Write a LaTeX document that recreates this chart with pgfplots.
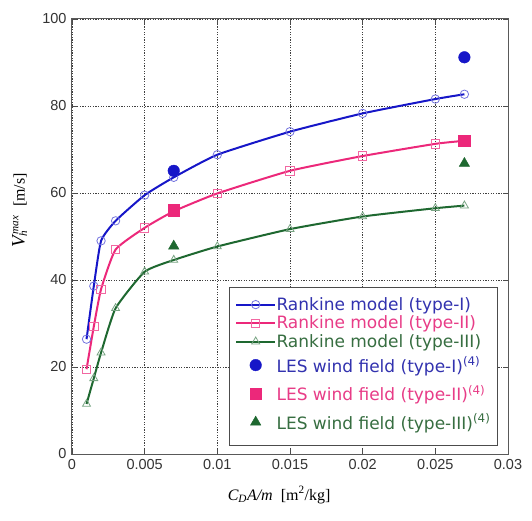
\documentclass[border=0pt]{standalone}
\usepackage{fontspec}
\setmainfont{Liberation Sans}
\newfontfamily\serfont{Liberation Serif}
\newfontfamily\legfont{DejaVu Sans}
\usepackage{pgfplots}
\pgfplotsset{compat=1.18}
\definecolor{cblue}{RGB}{22,22,200}
\definecolor{cpink}{RGB}{236,40,122}
\definecolor{cgreen}{RGB}{30,104,48}
\definecolor{tblue}{RGB}{50,50,175}
\definecolor{tpink}{RGB}{232,60,135}
\definecolor{tgreen}{RGB}{55,110,65}
\pgfplotsset{
  legline/.style={legend image code/.code={\path[draw=none,fill=none] (0cm,-9.25pt) rectangle (1.36cm,9.25pt);
    \draw[line width=2pt, mark repeat=2,mark phase=2] plot coordinates {(0cm,0cm) (0.68cm,0cm) (1.36cm,0cm)};}},
  lesmark/.style={legend image code/.code={\path[draw=none,fill=none] (0cm,-14.25pt) rectangle (1.36cm,14.25pt);
    \draw[mark repeat=2,mark phase=2] plot coordinates {(0cm,0cm) (0.68cm,0cm) (1.36cm,0cm)};}},
  lesmarklast/.style={legend image code/.code={\path[draw=none,fill=none] (0cm,-15pt) rectangle (1.36cm,14.25pt);
    \draw[mark repeat=2,mark phase=2] plot coordinates {(0cm,0cm) (0.68cm,0cm) (1.36cm,0cm)};}},
}
\begin{document}
\begin{tikzpicture}
\begin{axis}[
  name=ax,
  scale only axis,
  width=436pt, height=435pt,
  xmin=0, xmax=0.03, ymin=0, ymax=100,
  scaled x ticks=false,
  xtick={0,0.005,0.01,0.015,0.02,0.025,0.03},
  xticklabels={0,0.005,0.01,0.015,0.02,0.025,0.03},
  ytick={0,20,40,60,80,100},
  /pgf/number format/assume math mode=true,
  tick label style={font=\fontsize{14.5}{16}\selectfont, text=black!80},
  xticklabel style={yshift=-2pt},
  yticklabel style={xshift=-2pt},
  tick style={black!70, line width=0.8pt},
  major tick length=5pt,
  axis line style={black!65, line width=1pt},
  grid=major,
  major grid style={black!75, line width=0.8pt, dash pattern=on 1.2pt off 1.4pt},
  clip=false,
  xlabel={\serfont\fontsize{16}{18}\selectfont{\itshape C}\textsubscript{\itshape D}{\itshape A/m}~~[m\textsuperscript{2}/kg]},
  xlabel style={at={(axis description cs:0.475,-0.094)}, anchor=center},
  ylabel={\serfont\fontsize{16}{18}\selectfont{\fontsize{19}{20}\selectfont\itshape V}\rlap{\textsubscript{\itshape h}}\textsuperscript{\itshape\,max}~~[m/s]},
  ylabel style={at={(axis description cs:-0.12,0.56)}, anchor=center},
  legend style={at={(axis description cs:0.975,0.02)}, anchor=south east,
    draw=black!70, fill=white,
    font=\legfont\fontsize{17}{19}\selectfont,
    row sep=0pt, inner xsep=6pt, inner ysep=8pt,
    nodes={inner sep=0.5pt}},
  legend cell align=left,
]
\addplot[legline, cblue, line width=2pt, smooth, tension=0.3, mark=o, mark size=4.2pt, mark options={line width=0.8pt, draw=cblue!60!white, fill=none}]
coordinates {(0.001,26.4) (0.0015,38.6) (0.002,49.0) (0.003,53.6) (0.005,59.5) (0.007,63.6) (0.01,68.8) (0.015,74.1) (0.02,78.3) (0.025,81.6) (0.027,82.7)};
\addlegendentry{\textcolor{tblue}{Rankine model (type-I)}}
\addplot[legline, cpink, line width=2pt, smooth, tension=0.3, mark=square, mark size=4.2pt, mark options={line width=0.8pt, draw=cpink!70!white, fill=none}]
coordinates {(0.001,19.5) (0.0015,29.3) (0.002,37.9) (0.003,47.0) (0.005,52.0) (0.007,55.8) (0.01,59.9) (0.015,65.1) (0.02,68.5) (0.025,71.3) (0.027,72.0)};
\addlegendentry{\textcolor{tpink}{Rankine model (type-II)}}
\addplot[legline, cgreen, line width=2pt, smooth, tension=0.3, mark=triangle, mark size=4.6pt, mark options={line width=0.8pt, draw=cgreen!60!white, fill=none}]
coordinates {(0.001,11.5) (0.0015,17.4) (0.002,23.3) (0.003,33.5) (0.005,41.9) (0.007,44.6) (0.01,47.7) (0.015,51.7) (0.02,54.6) (0.025,56.5) (0.027,57.1)};
\addlegendentry{\textcolor{tgreen}{Rankine model (type-III)}}
\addplot[lesmark, only marks, cblue, mark=*, mark size=5.8pt, mark options={draw=cblue, fill=cblue}]
coordinates {(0.007,65.1) (0.027,91.2)};
\addlegendentry{\textcolor{tblue}{LES wind field (type-I)\textsuperscript{(4)}}}
\addplot[lesmark, only marks, cpink, mark=square*, mark size=5.8pt, mark options={draw=cpink, fill=cpink}]
coordinates {(0.007,56.0) (0.027,72.0)};
\addlegendentry{\textcolor{tpink}{LES wind field (type-II)\textsuperscript{(4)}}}
\addplot[lesmarklast, only marks, cgreen, mark=triangle*, mark size=6pt, mark options={draw=cgreen, fill=cgreen}]
coordinates {(0.007,47.8) (0.027,66.8)};
\addlegendentry{\textcolor{tgreen}{LES wind field (type-III)\textsuperscript{(4)}}}
\end{axis}
\pgfresetboundingbox
\path[use as bounding box] ([xshift=-72pt,yshift=-66pt]ax.south west) rectangle ([xshift=24pt,yshift=19pt]ax.north east);
\end{tikzpicture}
\end{document}
